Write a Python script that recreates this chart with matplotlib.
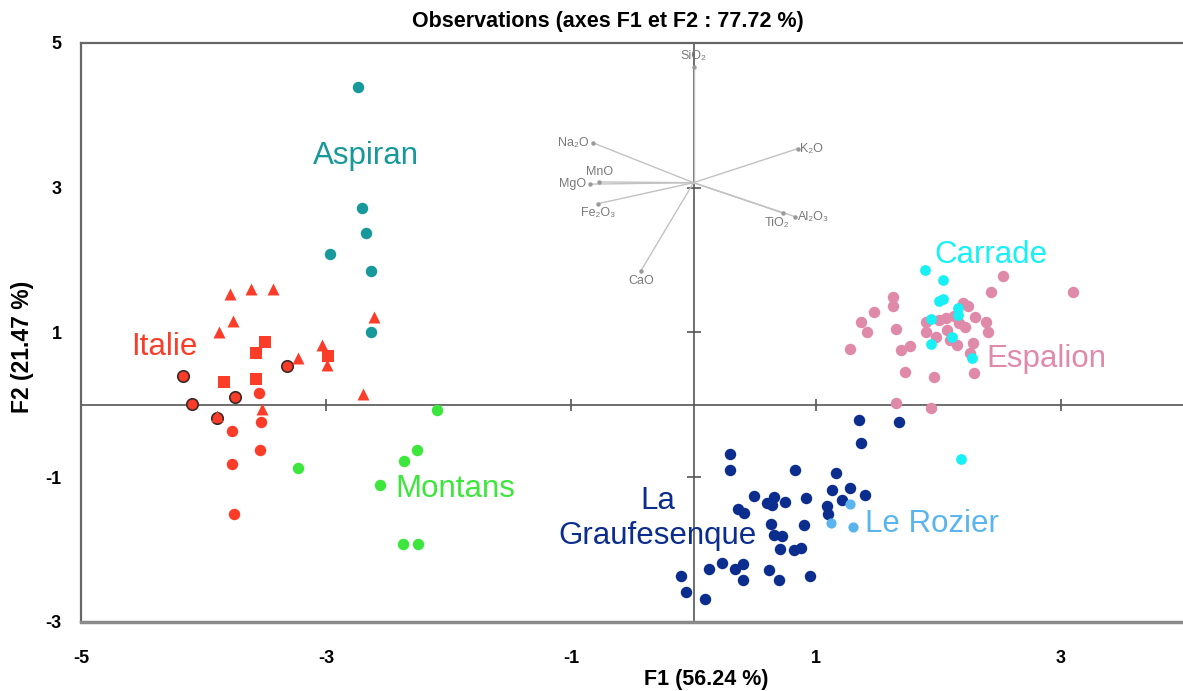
import matplotlib
matplotlib.use("Agg")
import matplotlib.pyplot as plt

plt.rcParams['font.family'] = ['Liberation Sans', 'DejaVu Sans']
plt.rcParams['axes.unicode_minus'] = False

# --- data ---
aspiran_x = [-2.74, -2.71, -2.67, -2.97, -2.63, -2.63]
aspiran_y = [4.39, 2.72, 2.38, 2.09, 1.85, 1.01]

italie_dot_x = [-3.55, -3.53, -3.77, -3.54, -3.77, -3.75]
italie_dot_y = [0.17, -0.24, -0.36, -0.62, -0.82, -1.51]
italie_edge_x = [-4.17, -3.32, -3.74, -4.09, -3.89]
italie_edge_y = [0.40, 0.54, 0.11, 0.01, -0.18]
italie_tri_x = [-3.78, -3.61, -3.43, -3.76, -3.87, -2.61, -3.03, -3.23, -2.99, -2.70, -3.52, -3.89]
italie_tri_y = [1.53, 1.60, 1.60, 1.16, 1.00, 1.22, 0.83, 0.65, 0.55, 0.15, -0.06, -0.16]
italie_sq_x = [-3.50, -3.57, -2.98, -3.83, -3.57]
italie_sq_y = [0.87, 0.72, 0.67, 0.31, 0.36]

montans_x = [-2.09, -2.26, -2.36, -3.23, -2.56, -2.37, -2.25]
montans_y = [-0.07, -0.62, -0.77, -0.87, -1.11, -1.92, -1.92]

graufesenque_x = [1.35, 1.68, 1.37, 0.30, 0.30, 0.83, 1.16, 1.13, 1.28, 1.40,
                  0.49, 0.66, 0.60, 0.64, 0.75, 0.92, 1.21, 1.09, 1.10, 0.36,
                  0.41, 0.63, 0.90, 0.66, 0.72, 0.71, 0.82, 0.88, 0.23, 0.13,
                  0.40, 0.34, 0.40, 0.62, 0.70, 0.95, -0.10, -0.06, 0.09]
graufesenque_y = [-0.21, -0.23, -0.52, -0.68, -0.90, -0.90, -0.94, -1.17, -1.15, -1.24,
                  -1.26, -1.27, -1.35, -1.39, -1.34, -1.29, -1.31, -1.40, -1.51, -1.44,
                  -1.49, -1.64, -1.66, -1.80, -1.81, -1.99, -2.01, -1.98, -2.18, -2.27,
                  -2.20, -2.27, -2.42, -2.28, -2.42, -2.37, -2.37, -2.58, -2.68]

rozier_x = [1.28, 1.12, 1.30]
rozier_y = [-1.37, -1.63, -1.69]

espalion_x = [2.53, 3.10, 2.43, 1.63, 1.63, 1.47, 2.20, 2.24, 1.37, 1.42,
              1.65, 1.28, 1.90, 2.00, 2.06, 2.13, 2.30, 2.39, 2.40, 2.22,
              2.17, 1.90, 1.98, 2.07, 2.09, 2.15, 2.28, 2.26, 1.69, 1.77,
              1.73, 1.96, 2.29, 1.65, 1.94]
espalion_y = [1.78, 1.56, 1.56, 1.49, 1.37, 1.29, 1.41, 1.36, 1.15, 1.01,
              1.05, 0.77, 1.15, 1.17, 1.20, 1.23, 1.21, 1.14, 1.01, 1.07,
              1.13, 1.00, 0.94, 1.03, 0.90, 0.83, 0.86, 0.72, 0.76, 0.81,
              0.46, 0.39, 0.44, 0.02, -0.05]

carrade_x = [1.89, 2.04, 2.00, 2.04, 2.16, 2.16, 1.94, 2.11, 1.94, 2.27, 2.18]
carrade_y = [1.86, 1.72, 1.44, 1.46, 1.34, 1.24, 1.19, 0.94, 0.84, 0.65, -0.75]

# variables (correlation circle overlay), origin of arrows
var_names = ['SiO₂', 'Na₂O', 'K₂O', 'MnO', 'MgO', 'Fe₂O₃', 'TiO₂', 'Al₂O₃', 'CaO']
var_x = [0.0, -0.82, 0.85, -0.77, -0.845, -0.78, 0.73, 0.83, -0.43]
var_y = [4.67, 3.62, 3.54, 3.08, 3.05, 2.78, 2.65, 2.60, 1.85]
var_origin = (0.0, 3.07)

x_ticks = [-5, -3, -1, 1, 3]
y_ticks = [-3, -1, 1, 3, 5]
inner_x_ticks = [-3, -1, 1, 3]
inner_y_ticks = [-1, 1, 3]

# label placement for the variable names: (dx, dy in points, ha)
var_label_pos = {
    'SiO₂': (0, 8, 'center'), 'Na₂O': (-3, 0, 'right'), 'K₂O': (2, 0, 'left'),
    'MnO': (0, 7, 'center'), 'MgO': (-3, 0, 'right'), 'Fe₂O₃': (0, -7, 'center'),
    'TiO₂': (-4, -7, 'center'), 'Al₂O₃': (2, 0, 'left'), 'CaO': (0, -7, 'center'),
}

c_teal = '#17989A'
c_red = '#FA3C28'
c_green = '#3DE63D'
c_navy = '#0A2D8E'
c_lblue = '#5AB4EE'
c_cyan = '#17F0F4'
c_pink = '#E08AAA'

W, H = 1183, 691
fig = plt.figure(figsize=(W / 100, H / 100), dpi=100)
ax = fig.add_axes([81 / W, 69 / H, (W - 81) / W, (622 - 43) / H])
ax.set_xlim(-5, -5 + (W - 81) / 122.5)
ax.set_ylim(-3, 5)

# zero lines with their small ticks
ax.axhline(0, color='#555555', lw=1.2, zorder=1)
ax.axvline(0, color='#555555', lw=1.2, zorder=1)
ax.plot(inner_x_ticks, [0] * len(inner_x_ticks), ls='none', marker='|',
        ms=9, mew=1.2, color='#555555', zorder=1)
ax.plot([0] * len(inner_y_ticks), inner_y_ticks, ls='none', marker='_',
        ms=10, mew=1.2, color='#555555', zorder=1)

# variable vectors
ox, oy = var_origin
for name, vx, vy in zip(var_names, var_x, var_y):
    ax.plot([ox, vx], [oy, vy], color='#C2C2C2', lw=1.0, zorder=1.5)
    ax.plot(vx, vy, 'o', ms=2.2, color='#9A9A9A', zorder=1.6)
    dx, dy, ha = var_label_pos[name]
    ax.annotate(name, (vx, vy), xytext=(dx, dy), textcoords='offset points',
                ha=ha, va='center', fontsize=9, color='#7A7A7A')

# observations
ms = 68
ax.scatter(aspiran_x, aspiran_y, s=ms, color=c_teal, zorder=3, lw=0)
ax.scatter(italie_dot_x, italie_dot_y, s=ms, color=c_red, zorder=3, lw=0)
ax.scatter(italie_edge_x, italie_edge_y, s=ms, color=c_red, zorder=3,
           edgecolors='#3A2A28', linewidths=1.2)
ax.scatter(italie_tri_x, italie_tri_y, s=74, marker='^', color=c_red, zorder=3, lw=0)
ax.scatter(italie_sq_x, italie_sq_y, s=72, marker='s', color=c_red, zorder=3, lw=0)
ax.scatter(montans_x, montans_y, s=ms, color=c_green, zorder=3, lw=0)
ax.scatter(graufesenque_x, graufesenque_y, s=ms, color=c_navy, zorder=3, lw=0)
ax.scatter(rozier_x, rozier_y, s=54, color=c_lblue, zorder=3, lw=0)
ax.scatter(espalion_x, espalion_y, s=ms, color=c_pink, zorder=3, lw=0)
ax.scatter(carrade_x, carrade_y, s=60, color=c_cyan, zorder=3, lw=0)

# group names
lab = dict(fontsize=22.5, va='baseline', zorder=4)
ax.text(-3.11, 3.33, 'Aspiran', color=c_teal, **lab)
ax.text(-4.59, 0.69, 'Italie', color=c_red, **lab)
ax.text(-2.43, -1.27, 'Montans', color=c_green, **lab)
ax.text(-0.29, -1.92, 'La\nGraufesenque', color=c_navy, ha='center',
        multialignment='center', **lab)
ax.text(1.40, -1.75, 'Le Rozier', color=c_lblue, **lab)
ax.text(1.97, 1.96, 'Carrade', color=c_cyan, **lab)
ax.text(2.39, 0.52, 'Espalion', color=c_pink, **lab)

# frame
ax.spines['right'].set_visible(False)
for s in ('top', 'left'):
    ax.spines[s].set_color('#666666')
    ax.spines[s].set_linewidth(1.6)
ax.spines['bottom'].set_color('#8A8A8A')
ax.spines['bottom'].set_linewidth(2.5)

ax.set_xticks(x_ticks)
ax.set_yticks(y_ticks)
ax.tick_params(length=0, labelsize=13)
ax.tick_params(axis='x', pad=20)
ax.tick_params(axis='y', pad=14)
for t in ax.get_xticklabels() + ax.get_yticklabels():
    t.set_fontweight('bold')

ax.set_xlabel('F1 (56.24 %)', fontsize=15.5, fontweight='bold')
ax.set_ylabel('F2 (21.47 %)', fontsize=16.5, fontweight='bold')
ax.xaxis.set_label_coords((706 - 81) / (W - 81), -(679 - 622) / 579)
ax.yaxis.set_label_coords(-(81 - 22) / (W - 81), (622 - 347) / 579)
ax.xaxis.label.set_va('center')
ax.yaxis.label.set_va('center')

fig.text(608 / W, 1 - 21 / H, 'Observations (axes F1 et F2 : 77.72 %)',
         ha='center', va='center', fontsize=15.5, fontweight='bold')

fig.savefig('out.png', dpi=100)
